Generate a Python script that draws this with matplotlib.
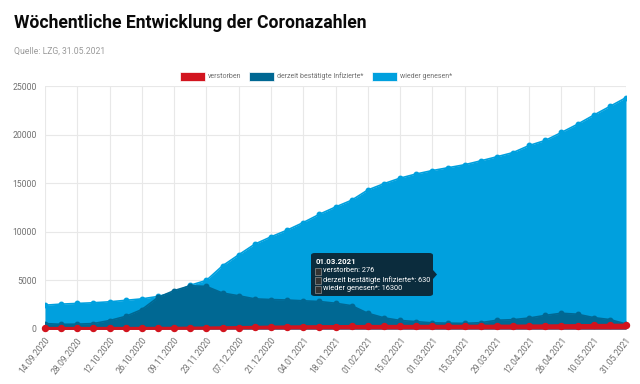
import matplotlib
matplotlib.use("Agg")
import matplotlib.pyplot as plt
from matplotlib.patches import FancyBboxPatch, Rectangle, Polygon

dates = ["14.09.2020", "21.09.2020", "28.09.2020", "05.10.2020", "12.10.2020", "19.10.2020",
         "26.10.2020", "02.11.2020", "09.11.2020", "16.11.2020", "23.11.2020", "30.11.2020",
         "07.12.2020", "14.12.2020", "21.12.2020", "28.12.2020", "04.01.2021", "11.01.2021",
         "18.01.2021", "25.01.2021", "01.02.2021", "08.02.2021", "15.02.2021", "22.02.2021",
         "01.03.2021", "08.03.2021", "15.03.2021", "22.03.2021", "29.03.2021", "05.04.2021",
         "12.04.2021", "19.04.2021", "26.04.2021", "03.05.2021", "10.05.2021", "17.05.2021",
         "31.05.2021"]

verstorben = [60, 60, 61, 62, 63, 64, 66, 70, 78, 90, 105, 125, 150, 175, 195, 215, 230, 240,
              250, 258, 264, 268, 271, 274, 276, 279, 282, 286, 292, 300, 310, 322, 335, 350,
              365, 378, 400]

infizierte = [560, 480, 500, 560, 870, 1300, 2000, 3250, 3950, 4450, 4380, 3700, 3420, 3100,
              3030, 2980, 2900, 2830, 2650, 2400, 1620, 1150, 880, 760, 630, 600, 580, 650,
              900, 960, 1130, 1400, 1620, 1520, 1170, 970, 520]

genesen = [2450, 2560, 2630, 2700, 2800, 2950, 3100, 3350, 3750, 4500, 5000, 6500, 7630,
           8730, 9480, 10170, 10950, 11800, 12550, 13250, 14300, 14950, 15520, 15950, 16300,
           16600, 16900, 17300, 17720, 18150, 18880, 19400, 20220, 21070, 22000, 22900, 23800]

labels = ["verstorben", "derzeit bestätigte Infizierte*", "wieder genesen*"]
c_red = "#d2141e"
c_dark = "#006893"
c_light = "#00a0de"
grey = "#707070"

plt.rcParams['font.family'] = ['Roboto', 'DejaVu Sans']

fig = plt.figure(figsize=(6.4, 3.84), dpi=100)
ax = fig.add_axes([45/640, 1-329/384, (626-45)/640, (329-86)/384])

x = list(range(len(dates)))

ax.fill_between(x, 0, genesen, color=c_light, lw=0, zorder=2)
ax.plot(x, genesen, color=c_light, lw=1.2, marker='o', ms=3.2, zorder=3)
ax.fill_between(x, 0, infizierte, color=c_dark, lw=0, zorder=4)
ax.plot(x, infizierte, color=c_dark, lw=1.2, marker='o', ms=3.2, zorder=5)
ax.fill_between(x, 0, verstorben, color=c_red, lw=0, zorder=6)
ax.plot(x, verstorben, color=c_red, lw=2.2, marker='o', ms=4.3, zorder=7, clip_on=False)

ax.set_xlim(0, len(dates) - 1)
ax.set_ylim(0, 25000)
ax.set_yticks([0, 5000, 10000, 15000, 20000, 25000])
ax.set_yticklabels(["0", "5000", "10000", "15000", "20000", "25000"])
ax.set_xticks(x[::2])
ax.set_xticklabels(dates[::2], rotation=52, ha='right', va='top', rotation_mode='anchor')
ax.tick_params(axis='both', labelsize=6.2, colors=grey, length=0, pad=5)
ax.tick_params(axis='y', pad=6)
ax.grid(True, color="#e8e8e8", lw=0.8, zorder=0)
ax.set_axisbelow(True)
for s in ax.spines.values():
    s.set_visible(False)

# Title & subtitle
fig.text(14/640, 1-28/384, "Wöchentliche Entwicklung der Coronazahlen", fontsize=12.7,
         fontweight='bold', color="#0a0a0a", ha='left', va='baseline')
fig.text(14/640, 1-54/384, "Quelle: LZG, 31.05.2021", fontsize=6.2, color="#9a9a9a",
         ha='left', va='baseline')

# Legend
cols = [c_red, c_dark, c_light]
boxes = [180, 249, 372]
for bx, col, lab in zip(boxes, cols, labels):
    fig.patches.append(Rectangle((bx/640, 1-81/384), 25/640, 9/384, transform=fig.transFigure,
                                 facecolor=col, edgecolor='white', lw=0.5))
    fig.text((bx+28)/640, 1-76.5/384, lab, fontsize=5.0, color=grey, ha='left', va='center')

# Tooltip
tx0, ty0, tw, th = 311, 253, 122, 43
fig.patches.append(FancyBboxPatch((tx0/640, 1-(ty0+th)/384), tw/640, th/384,
                                  boxstyle="round,pad=0,rounding_size=0.006",
                                  transform=fig.transFigure, facecolor="#0b2c3d",
                                  edgecolor='none', zorder=10))
fig.patches.append(Polygon([((tx0+tw)/640, 1-270/384), ((tx0+tw+4)/640, 1-274.5/384),
                            ((tx0+tw)/640, 1-279/384)], closed=True,
                           transform=fig.transFigure, facecolor="#0b2c3d", edgecolor='none',
                           zorder=10))
fig.text((tx0+5)/640, 1-261/384, "01.03.2021", fontsize=5.7, fontweight='bold', color='white',
         ha='left', va='center', zorder=11)
tip = [f"verstorben: {verstorben[24]}", f"derzeit bestätigte Infizierte*: {infizierte[24]}",
       f"wieder genesen*: {genesen[24]}"]
for k, t in enumerate(tip):
    yy = 271 + k * 9
    fig.patches.append(Rectangle(((tx0+4)/640, 1-(yy+3.5)/384), 6/640, 7/384,
                                 transform=fig.transFigure, facecolor="#333333",
                                 edgecolor='#aaaaaa', lw=0.4, zorder=11))
    fig.text((tx0+12)/640, 1-yy/384, t, fontsize=5.3, color='white', ha='left', va='center',
             zorder=11)

fig.savefig("out.png", dpi=100)
